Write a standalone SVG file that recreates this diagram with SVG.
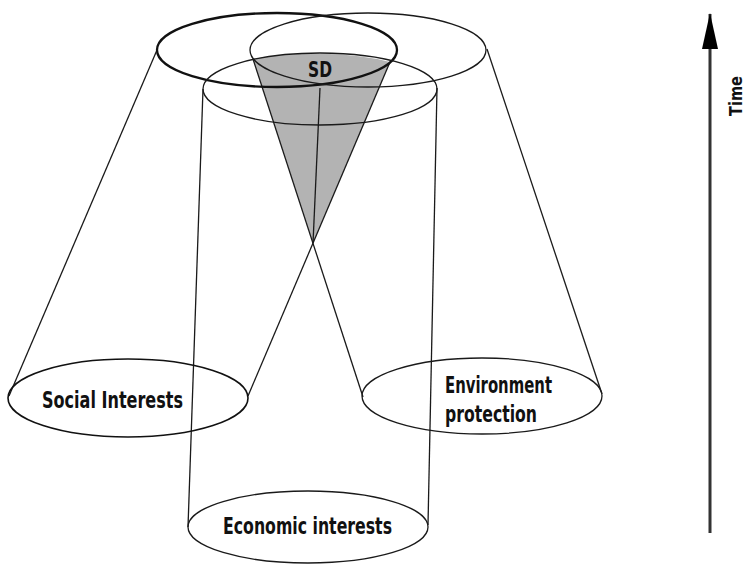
<svg xmlns="http://www.w3.org/2000/svg" width="747" height="568" viewBox="0 0 747 568">
<style>
.thin{fill:none;stroke:#1a1a1a;stroke-width:1.3}
.bold{fill:none;stroke:#111;stroke-width:2.3}
.lbl{font-family:"DejaVu Sans","Liberation Sans",sans-serif;font-weight:bold;font-size:23px;fill:#111}
</style>
<defs>
<marker id="ah" viewBox="0 0 36 16" refX="35" refY="8" markerWidth="36" markerHeight="16" markerUnits="userSpaceOnUse" orient="auto">
<path d="M0,0 L36,8 L0,16 Z" fill="#000"/>
</marker>
</defs>
<rect width="747" height="568" fill="#fff"/>
<g id="sd">
<path d="M253,59 A117 35 0 0 1 390,62 L313,243 Z" fill="#b3b3b3" stroke="none"/>
<text class="lbl" x="320" y="77" text-anchor="middle" textLength="24" lengthAdjust="spacingAndGlyphs" style="font-size:22px">SD</text>
</g>
<g id="connectors">
<line class="thin" x1="157" y1="50" x2="9" y2="396"/>
<line class="thin" x1="390" y1="62" x2="248" y2="396"/>
<line class="thin" x1="253" y1="59" x2="363" y2="397"/>
<line class="thin" x1="487" y1="49" x2="602" y2="394"/>
<line class="thin" x1="203" y1="89" x2="188" y2="527"/>
<line class="thin" x1="437" y1="88" x2="428" y2="525"/>
<line class="thin" x1="320" y1="88" x2="313" y2="243"/>
</g>
<g id="social-top"><ellipse class="bold" cx="277" cy="50" rx="120" ry="37"/></g>
<g id="env-top"><ellipse class="thin" cx="368" cy="50" rx="118" ry="37"/></g>
<g id="econ-top"><ellipse class="thin" cx="320" cy="89" rx="117" ry="36"/></g>
<g id="social">
<ellipse class="bold" cx="128" cy="398" rx="120" ry="39" style="stroke-width:1.6"/>
<text class="lbl" x="42" y="408" textLength="141" lengthAdjust="spacingAndGlyphs">Social Interests</text>
</g>
<g id="environment">
<ellipse class="thin" cx="482" cy="396" rx="120" ry="38"/>
<text class="lbl" x="445" y="393" textLength="107" lengthAdjust="spacingAndGlyphs">Environment</text>
<text class="lbl" x="445" y="422" textLength="92" lengthAdjust="spacingAndGlyphs">protection</text>
</g>
<g id="economic">
<ellipse class="thin" cx="308" cy="527" rx="120" ry="36"/>
<text class="lbl" x="223" y="534" textLength="169" lengthAdjust="spacingAndGlyphs">Economic interests</text>
</g>
<g id="time">
<line x1="710" y1="533" x2="710" y2="14" stroke="#333" stroke-width="3" marker-end="url(#ah)"/>
<text class="lbl" transform="translate(742,116) rotate(-90)" x="0" y="0" style="font-size:18px" textLength="40" lengthAdjust="spacingAndGlyphs">Time</text>
</g>
</svg>
